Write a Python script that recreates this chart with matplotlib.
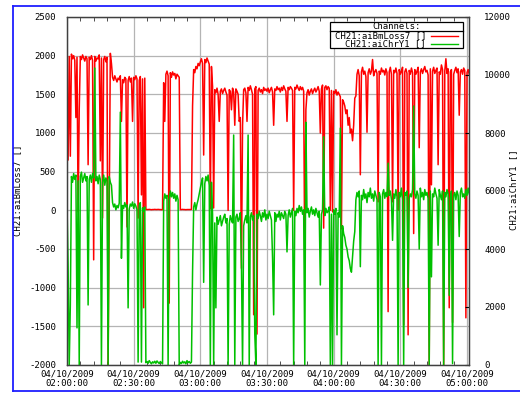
import numpy as np
import matplotlib
matplotlib.use('Agg')
import matplotlib.pyplot as plt
from matplotlib.ticker import MultipleLocator, FixedLocator
from matplotlib.lines import Line2D
from matplotlib.patches import Rectangle

plt.rcParams['font.family'] = ['DejaVu Sans Mono', 'DejaVu Sans']
plt.rcParams['font.size'] = 6.5

# sample spacing in minutes after 02:00:00
STEP_MIN = 0.5

# CH21:aiBmLoss7 [] (left axis)
bm_loss7 = [
    1550, 650, 1990, 700, 2020, 1960, 2000, 1940, 1200, 1980,
    -20, 1300, 1990, 1950, 2010, 1970, 1930, 1990, 1960, 590,
    1980, 1950, 2000, 1940, -640, 1990, 1930, 1970, 1960, 2010,
    640, 1970, -100, 1950, 1990, 1920, 1980, -2000, 110, 2030,
    1900, 1720, 1680, 1740, 1700, 1660, 1710, 1690, 1740, 1150,
    1690, 1650, 1720, 1700, -215, 1680, 1730, 1660, 1710, 1150,
    1720, 1690, 1740, 1700, -100, 1680, 1730, 200, 1700, -1260,
    1710, 10, 10, 10, 12, 10, 8, 10, 10, 12,
    10, 10, 12, 10, 10, 8, 10, 1650, 1150, 1760,
    1800, 1740, -1200, 1780, 1720, 1790, 1750, 1770, 1700, 1760,
    1740, 1720, 10, 10, 12, 10, 10, 8, 10, 10,
    10, 10, 12, 1350, 1820, 1780, 1860, 1830, 1900, 1870,
    1920, 1960, 1900, 715, 1950, 1910, 1970, 1930, 1890, 20,
    1860, 1600, 30, 1560, 1520, 1580, 1500, 1150, 1540, 1570,
    1510, 1550, 1580, 1530, 1490, 0, 1560, 1540, 1300, 1580,
    1530, 1100, 1570, 1540, 1500, 1150, 1200, -750, 1100, 1560,
    1580, 1520, 1150, 1590, 1550, 1610, 1560, 1500, -1350, 1570,
    1600, -1600, 1550, 1580, 1530, 1560, 1510, 1590, 1550, 1570,
    1540, 1580, 1520, 1560, 1590, 1530, 1100, 1570, 1550, 1600,
    1560, 1580, 1530, 1590, 1550, 1610, 1570, 1540, 1150, 1590,
    1560, 1600, 1580, 1550, 0, 1590, 1570, 1620, 1580, 1550,
    1600, 1560, 1590, 1540, -740, 1300, 1520, 1560, 1490, 1540,
    1570, 1510, 1550, 1580, 1530, 1560, 1600, 1540, 1000, 1570,
    1620, -230, 1590, 1610, 1560, 1600, 1580, 0, 1550, -20,
    1540, 1510, 1560, 1490, 1530, 1500, 1470, -240, 1430, 1400,
    1350, 1250, 1300, 1100, 1200, 1000, 1050, 900, 1100, 1450,
    1480, 1760, 1820, 1740, 460, 1790, 1850, 1760, 1800, 1730,
    1010, 1780, 1830, 1760, 1800, 1950, 1740, 1790, 1820, 1770,
    110, 1800, 1760, 1840, 1790, 1810, 1750, 1830, 1780, -1310,
    1790, 1850, 1760, 110, 1810, 1780, 1840, 1770, 0, 1820,
    1760, 1800, 1850, -1480, 1790, 1830, 1770, -1610, 1810, 1760,
    1840, 1780, -300, 1820, 1760, 1800, 1850, 810, 1790, 1830,
    1770, 1820, 1860, 1790, 1810, 1750, -2000, 1830, 330, 1800,
    1850, 1770, 1810, 1840, 590, 1790, 1760, 1880, 1820, -2000,
    1800, 1960, 1770, 1830, -1260, 1790, 1820, -1450, 1760, 1810,
    1850, 1780, 1830, 1230, 1790, 1820, 1760, 1840, 1810, -1390,
    1780, 1820, 1760,
]

# CH21:aiChrY1 [] (right axis)
chr_y1 = [
    5500, 3400, 0, 2070, 6500, 6300, 6600, 6400, 6550, 1280,
    6350, 0, 6500, 6650, 6300, 6450, 6600, 6350, 6500, 2070,
    6400, 6550, 6300, 6600, 6450, 10240, 6350, 6500, 6250, 6550,
    6400, 0, 6300, 6550, 6200, 6450, 6350, 0, 6500, 6300,
    6200, 5600, 5450, 5550, 5350, 5500, 5420, 5580, 8720, 3680,
    5500, 5400, 5600, 5450, 5520, 1970, 5380, 5550, 5480, 5620,
    5400, 5560, 5480, 5350, 100, 5500, 5600, 100, 5420, 5300,
    5450, 80, 120, 60, 150, 90, 40, 110, 70, 130,
    60, 140, 90, 50, 120, 80, 40, 5650, 5900, 5750,
    5850, 0, 5700, 6000, 5800, 5950, 5750, 5900, 5650, 5850,
    5700, 0, 90, 50, 130, 70, 110, 40, 150, 80,
    120, 60, 100, 3200, 5450, 5600, 5350, 5550, 5700, 5900,
    6100, 6300, 6450, 2850, 6250, 6500, 6350, 6550, 6200, 0,
    6300, 5200, 0, 4900, 1970, 5100, 4850, 5000, 5150, 4800,
    4950, 5100, 5200, 4900, 5050, 0, 4850, 5150, 5000, 4900,
    7930, 0, 5100, 5200, 4950, 5050, 5250, 3400, 0, 4800,
    5000, 5150, 4900, 7930, 0, 5100, 5250, 5000, 5150, 1070,
    0, 5200, 5050, 5300, 5150, 4950, 5250, 5100, 5350, 5000,
    5200, 5050, 5300, 5150, 5000, 3680, 1730, 5250, 4950, 5200,
    5100, 5300, 5000, 5250, 5150, 5050, 5300, 5200, 3900, 5150,
    5350, 5100, 5250, 5400, 0, 5300, 5150, 5400, 5250, 5500,
    5300, 5450, 5200, 5350, 0, 8370, 5250, 5400, 5100, 5300,
    5450, 5200, 5350, 5150, 5400, 5250, 5100, 5300, 2760, 5200,
    5350, 7870, 5150, 5400, 5250, 5300, 5450, 0, 5200, 0,
    5350, 5200, 5400, 1040, 5250, 5100, 8170, 0, 4800, 4530,
    4400, 4130, 4000, 3730, 3600, 3330, 3200, 3730, 4270, 4600,
    5700, 5950, 5800, 6000, 3390, 5850, 5700, 6050, 5750, 5900,
    5600, 5950, 5800, 6100, 5750, 5900, 5650, 6000, 5850, 5700,
    0, 5950, 5800, 0, 5900, 6050, 5750, 5950, 5800, 6960,
    5850, 6000, 5700, 4300, 5900, 5750, 6050, 5800, 0, 5950,
    5800, 6100, 5700, 0, 5950, 5850, 6000, 2670, 5750, 5900,
    5800, 6050, 8930, 5900, 5750, 6000, 5850, 4000, 6100, 5800,
    5950, 5700, 6050, 5850, 5950, 5750, 0, 6000, 3040, 5900,
    5800, 6100, 5900, 5750, 4130, 6050, 5850, 5700, 6000, 0,
    5950, 5800, 6050, 5900, 2400, 5750, 6000, 50, 5850, 5950,
    5700, 6000, 5850, 4430, 5950, 6100, 5800, 5900, 5750, 6050,
    5850, 6100, 5900,
]

x_tick_minutes = [0, 30, 60, 90, 120, 150, 180]
x_tick_labels = ["04/10/2009\n02:00:00", "04/10/2009\n02:30:00", "04/10/2009\n03:00:00",
                 "04/10/2009\n03:30:00", "04/10/2009\n04:00:00", "04/10/2009\n04:30:00",
                 "04/10/2009\n05:00:00"]
left_ticks = [-2000, -1500, -1000, -500, 0, 500, 1000, 1500, 2000, 2500]
right_ticks = [0, 2000, 4000, 6000, 8000, 10000, 12000]
series_names = ["CH21:aiBmLoss7 []", "CH21:aiChrY1 []"]
legend_title = "Channels:"

RED = '#ff0000'
GREEN = '#00c000'

t_red = np.arange(len(bm_loss7)) * STEP_MIN
t_grn = np.arange(len(chr_y1)) * STEP_MIN

fig = plt.figure(figsize=(5.2, 3.93), dpi=100)
W, H = 520.0, 393.0
L, R, T, B = 67, 469, 17, 365
ax = fig.add_axes([L / W, 1 - B / H, (R - L) / W, (B - T) / H])
ax2 = ax.twinx()

ax.plot(t_red, bm_loss7, color=RED, lw=1.1)
ax2.plot(t_grn, chr_y1, color=GREEN, lw=1.1)

ax.set_xlim(0, 180.9)
ax.set_ylim(-2000, 2500)
ax2.set_ylim(0, 12000)

ax.xaxis.set_major_locator(FixedLocator(x_tick_minutes))
ax.set_xticklabels(x_tick_labels, linespacing=1.15)
ax.xaxis.set_minor_locator(MultipleLocator(6))
ax.yaxis.set_major_locator(FixedLocator(left_ticks))
ax.set_yticklabels([str(v) for v in left_ticks])
ax2.yaxis.set_major_locator(FixedLocator(right_ticks))
ax2.set_yticklabels([str(v) for v in right_ticks])

ax.grid(True, which='major', color='#b4b4b4', lw=0.9)
ax.tick_params(axis='x', which='both', direction='in', top=True, bottom=True, pad=3, colors='#303030', labelcolor='black')
ax.tick_params(axis='x', which='major', length=0)
ax.tick_params(axis='x', which='minor', length=3)
ax.tick_params(axis='y', direction='in', length=0, pad=8)
ax2.tick_params(axis='y', direction='in', length=3, pad=11)
for a in (ax, ax2):
    for s in a.spines.values():
        s.set_color('#404040')
        s.set_linewidth(0.9)


def fx(px):
    return (px - L) / (R - L)


def fy(py):
    return (B - py) / (B - T)


ax.set_ylabel(series_names[0])
ax.yaxis.set_label_coords(fx(22.5), fy(190))
ax2.set_ylabel(series_names[1], rotation=90, va='center')
ax2.yaxis.set_label_coords(fx(513.5), fy(190))

# legend box drawn in axes fraction
box = Rectangle((fx(330), fy(48)), fx(463) - fx(330), fy(22) - fy(48), transform=ax2.transAxes,
                facecolor='white', edgecolor='black', lw=0.9, zorder=10)
ax2.add_patch(box)
ax2.add_line(Line2D([fx(330), fx(463)], [fy(31), fy(31)], transform=ax2.transAxes, color='black', lw=0.9, zorder=11))
ax2.text((fx(330) + fx(463)) / 2, fy(26.5), legend_title, transform=ax2.transAxes, ha='center', va='center', zorder=12)
for i, (name, col) in enumerate(zip(series_names, [RED, GREEN])):
    yy = fy(35.5 + 8.5 * i)
    ax2.text(fx(426), yy, name, transform=ax2.transAxes, ha='right', va='center', zorder=12)
    ax2.add_line(Line2D([fx(431), fx(458)], [yy, yy], transform=ax2.transAxes, color=col, lw=1.0, zorder=12))

# blue frame around the figure
blue = '#1f1fff'
fig.add_artist(Line2D([13 / W, 1.0], [1 - 5.5 / H, 1 - 5.5 / H], color=blue, lw=1.3))
fig.add_artist(Line2D([13 / W, 13 / W], [1 - 5.5 / H, 1 - 391 / H], color=blue, lw=1.3))
fig.add_artist(Line2D([13 / W, 1.0], [1 - 391 / H, 1 - 391 / H], color=blue, lw=1.3))

fig.savefig('out.png', dpi=100)
